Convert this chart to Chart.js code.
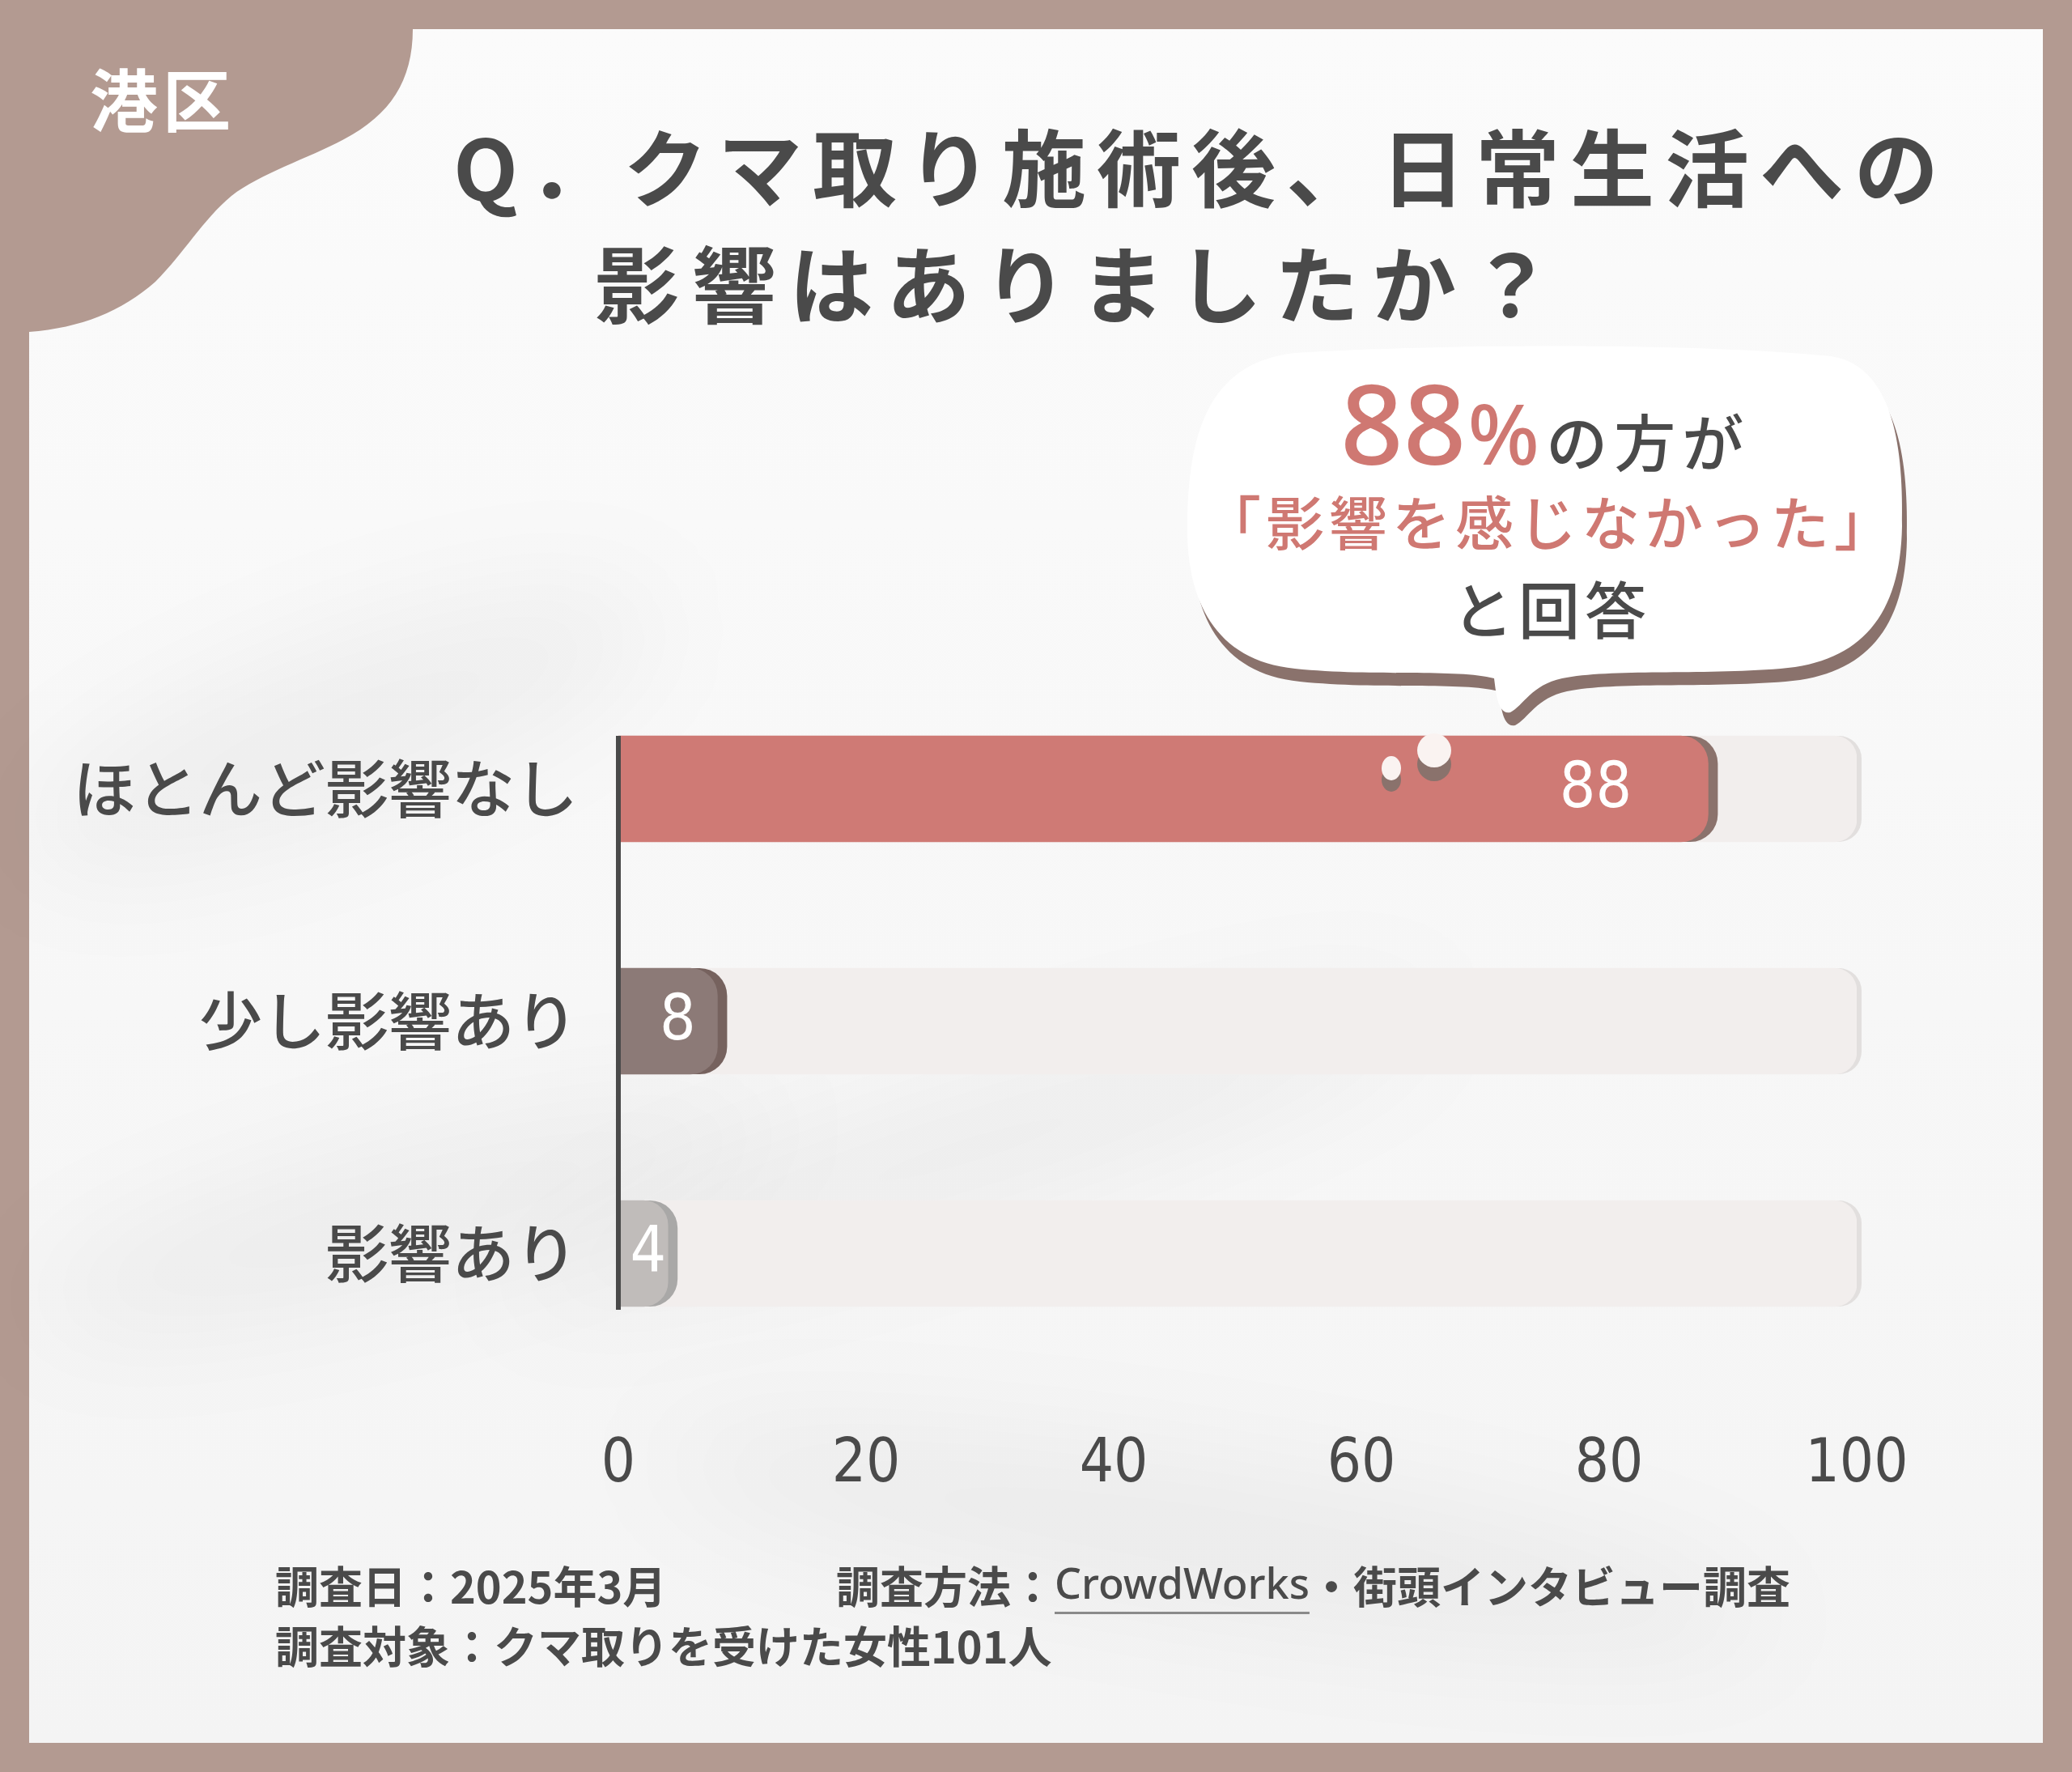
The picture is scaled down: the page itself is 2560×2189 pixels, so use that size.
<!DOCTYPE html>
<html><head><meta charset="utf-8">
<script src="https://cdn.jsdelivr.net/npm/chart.js@4.4.1/dist/chart.umd.min.js"></script>
<style>html,body{margin:0;padding:0;background:#b39a91;}canvas{display:block;}</style>
</head><body>
<canvas id="c" width="2560" height="2189" style="width:2560px;height:2189px"></canvas>
<script>
// ---- data ----
const categories = ['ほとんど影響なし', '少し影響あり', '影響あり'];
const values = [88, 8, 4];
const trackValues = [100, 100, 100];
const xTickValues = [0, 20, 40, 60, 80, 100];
const areaLabel = '港区';
const titleLines = ['Q．クマ取り施術後、日常生活への', '影響はありましたか？'];
const calloutNumber = '88';
const calloutUnit = '%';
const footerDate = '調査日：2025年3月';
const footerMethodA = '調査方法：';
const footerMethodLink = 'CrowdWorks';
const footerMethodB = '・街頭インタビュー調査';
const footerTarget = '調査対象：クマ取りを受けた女性101人';

// ---- styles ----
const JP = "'Noto Sans CJK JP', 'Noto Sans', sans-serif";
const NUM = "'Liberation Sans Narrow', 'DejaVu Sans Condensed', 'Noto Sans', sans-serif";
const TEXT = '#4a4a4a';
const FRAME = '#b39a91';
const SALMON = '#cf7872';
const barColors = ['#cf7a75', '#8c7a77', '#c0bcba'];
const edgeColors = ['#8b726c', '#76625e', '#a9a8a7'];

function blobPath(ctx) {
  ctx.beginPath();
  ctx.moveTo(0, 0);
  ctx.lineTo(510, 0);
  ctx.lineTo(510, 36);
  ctx.bezierCurveTo(510, 100, 482, 142, 425, 172);
  ctx.bezierCurveTo(380, 196, 322, 214, 286, 242);
  ctx.bezierCurveTo(250, 272, 228, 312, 192, 348);
  ctx.bezierCurveTo(150, 385, 100, 405, 36, 410);
  ctx.lineTo(0, 410);
  ctx.closePath();
}
function bubblePath(ctx) {
  ctx.beginPath();
  ctx.moveTo(1600, 436);
  ctx.bezierCurveTo(1800, 424, 2100, 424, 2262, 440);
  ctx.bezierCurveTo(2342, 452, 2352, 560, 2350, 650);
  ctx.bezierCurveTo(2348, 760, 2300, 818, 2200, 826);
  ctx.bezierCurveTo(2100, 834, 1990, 826, 1930, 838);
  ctx.bezierCurveTo(1892, 846, 1882, 872, 1866, 880);
  ctx.bezierCurveTo(1850, 884, 1848, 852, 1846, 838);
  ctx.bezierCurveTo(1800, 826, 1700, 836, 1600, 826);
  ctx.bezierCurveTo(1500, 816, 1466, 740, 1467, 650);
  ctx.bezierCurveTo(1468, 540, 1490, 448, 1600, 436);
  ctx.closePath();
}
function spaced(ctx, text, x, y, spacing, align) {
  ctx.letterSpacing = spacing + 'px';
  const w = ctx.measureText(text).width;
  let sx = x;
  if (align === 'center') sx = x - (w - spacing) / 2;
  else if (align === 'right') sx = x - (w - spacing);
  ctx.textAlign = 'left';
  ctx.fillText(text, sx, y);
  ctx.letterSpacing = '0px';
  return w - spacing;
}

const decor = {
  id: 'decor',
  beforeDraw(chart) {
    const ctx = chart.ctx;
    ctx.save();
    // frame + background
    ctx.fillStyle = FRAME;
    ctx.fillRect(0, 0, 2560, 2189);
    const g = ctx.createLinearGradient(0, 36, 0, 2153);
    g.addColorStop(0, '#fbfbfb');
    g.addColorStop(1, '#f4f4f4');
    ctx.fillStyle = g;
    ctx.fillRect(36, 36, 2488, 2117);
    // soft shadows
    ctx.save();
    ctx.filter = 'blur(70px)';
    ctx.fillStyle = 'rgba(0,0,0,0.04)';
    ctx.beginPath();
    ctx.ellipse(420, 900, 420, 110, -0.35, 0, Math.PI * 2);
    ctx.fill();
    ctx.beginPath();
    ctx.ellipse(500, 1500, 480, 90, -0.25, 0, Math.PI * 2);
    ctx.fill();
    ctx.beginPath();
    ctx.ellipse(1200, 1420, 600, 80, -0.3, 0, Math.PI * 2);
    ctx.fill();
    ctx.beginPath();
    ctx.ellipse(1500, 1900, 700, 90, 0.15, 0, Math.PI * 2);
    ctx.fill();
    ctx.restore();
    // corner blob
    ctx.fillStyle = FRAME;
    blobPath(ctx);
    ctx.fill();
    // area label
    ctx.fillStyle = '#ffffff';
    ctx.font = `700 84px ${JP}`;
    ctx.textBaseline = 'middle';
    spaced(ctx, areaLabel, 198, 124, 6, 'center');
    // title
    ctx.fillStyle = TEXT;
    ctx.font = `700 104px ${JP}`;
    spaced(ctx, titleLines[0], 560, 208, 13, 'left');
    spaced(ctx, titleLines[1], 735, 352, 16, 'left');
    // bubble
    ctx.save();
    ctx.translate(6, 16);
    ctx.fillStyle = '#8a726c';
    bubblePath(ctx);
    ctx.fill();
    ctx.restore();
    ctx.fillStyle = '#ffffff';
    bubblePath(ctx);
    ctx.fill();
    // bubble text
    ctx.textBaseline = 'alphabetic';
    ctx.fillStyle = SALMON;
    ctx.font = `500 136px 'Noto Sans', sans-serif`;
    let bx = 1656;
    bx += spaced(ctx, calloutNumber, bx, 574, 0, 'left');
    ctx.font = `500 104px 'Noto Sans', sans-serif`;
    bx += spaced(ctx, calloutUnit, bx + 2, 574, 0, 'left') + 10;
    ctx.fillStyle = TEXT;
    ctx.font = `500 76px ${JP}`;
    spaced(ctx, 'の方が', bx, 576, 8, 'left');
    ctx.textBaseline = 'middle';
    ctx.fillStyle = SALMON;
    ctx.font = `500 72px ${JP}`;
    spaced(ctx, '「影響を感じなかった」', 1912, 646, 6, 'center');
    ctx.fillStyle = TEXT;
    ctx.font = `500 76px ${JP}`;
    spaced(ctx, 'と回答', 1914, 754, 6, 'center');
    // footer
    ctx.fillStyle = TEXT;
    ctx.font = `700 54px ${JP}`;
    ctx.textBaseline = 'middle';
    spaced(ctx, footerDate, 340, 1960, 0, 'left');
    let fx = 1033;
    fx += spaced(ctx, footerMethodA, fx, 1960, 0, 'left');
    ctx.font = `500 52px 'Noto Sans', sans-serif`;
    const lw = spaced(ctx, footerMethodLink, fx, 1960, 0, 'left');
    ctx.fillStyle = '#8a8a8a';
    ctx.fillRect(fx, 1991, lw, 3);
    fx += lw;
    ctx.fillStyle = TEXT;
    ctx.font = `700 54px ${JP}`;
    spaced(ctx, footerMethodB, fx, 1960, 0, 'left');
    spaced(ctx, footerTarget, 340, 2034, 0, 'left');
    ctx.restore();
  },
  beforeDatasetDraw(chart, args) {
    const ctx = chart.ctx;
    const meta = args.meta;
    ctx.save();
    meta.data.forEach((el, i) => {
      const p = el.getProps(['x', 'y', 'base', 'height'], true);
      const left = Math.min(p.base, p.x);
      const right = Math.max(p.base, p.x);
      ctx.beginPath();
      if (args.index === 0) {
        ctx.fillStyle = '#e2dfde';
        ctx.roundRect(left, p.y - p.height / 2, right - left + 6, p.height, [0, 28, 28, 0]);
      } else {
        ctx.fillStyle = edgeColors[i];
        ctx.roundRect(left, p.y - p.height / 2, right - left + 12, p.height, [0, 34, 34, 0]);
      }
      ctx.fill();
    });
    ctx.restore();
  },
  afterDatasetsDraw(chart) {
    const ctx = chart.ctx;
    const meta = chart.getDatasetMeta(1);
    const xs = chart.scales.x;
    ctx.save();
    // axis line spanning the bars
    const first = meta.data[0].getProps(['y', 'height'], true);
    const last = meta.data[meta.data.length - 1].getProps(['y', 'height'], true);
    ctx.fillStyle = TEXT;
    ctx.fillRect(xs.getPixelForValue(0) - 3, first.y - first.height / 2, 6, last.y + last.height / 2 - (first.y - first.height / 2) + 4);
    // value labels
    ctx.fillStyle = '#ffffff';
    ctx.font = `78px ${NUM}`;
    ctx.textAlign = 'center';
    ctx.textBaseline = 'middle';
    meta.data.forEach((el, i) => {
      const p = el.getProps(['x', 'y', 'base'], true);
      const w = p.x - p.base;
      const cx = w > 300 ? p.x - 139 : p.base + w * 0.6;
      ctx.fillText(String(values[i]), cx, p.y + 2);
    });
    // drip dots
    ctx.fillStyle = '#8a726c';
    ctx.beginPath(); ctx.ellipse(1772, 944, 21, 21, 0, 0, Math.PI * 2); ctx.fill();
    ctx.beginPath(); ctx.ellipse(1719, 963, 12, 15, 0, 0, Math.PI * 2); ctx.fill();
    ctx.fillStyle = '#faf3f1';
    ctx.beginPath(); ctx.ellipse(1772, 927, 21, 21, 0, 0, Math.PI * 2); ctx.fill();
    ctx.beginPath(); ctx.ellipse(1719, 949, 12, 15, 0, 0, Math.PI * 2); ctx.fill();
    ctx.restore();
  }
};

new Chart(document.getElementById('c'), {
  type: 'bar',
  data: {
    labels: categories,
    datasets: [
      { label: 'track', data: trackValues, backgroundColor: '#f2eeed', borderRadius: 28, borderSkipped: 'start', barThickness: 131, grouped: false, order: 2 },
      { label: 'main', data: values, backgroundColor: barColors, borderRadius: 34, borderSkipped: 'start', barThickness: 131, grouped: false, order: 1 }
    ]
  },
  options: {
    indexAxis: 'y',
    responsive: false,
    devicePixelRatio: 1,
    animation: false,
    layout: { padding: { left: 36, right: 266, top: 831, bottom: 0 } },
    plugins: { legend: { display: false }, tooltip: { enabled: false } },
    scales: {
      x: {
        type: 'linear', min: 0, max: 100, position: 'bottom',
        grid: { display: false, drawTicks: false }, border: { display: false },
        afterBuildTicks: s => { s.ticks = xTickValues.map(v => ({ value: v })); },
        ticks: { font: { family: NUM, size: 74 }, color: TEXT, padding: 74 },
        afterFit: s => { s.height = 497; }
      },
      y: {
        grid: { display: false, drawTicks: false }, border: { display: false },
        ticks: { font: { family: JP, size: 78, weight: '500' }, color: TEXT, padding: 50 },
        afterFit: s => { s.width = 728; }
      }
    }
  },
  plugins: [decor]
});
</script>
</body></html>
